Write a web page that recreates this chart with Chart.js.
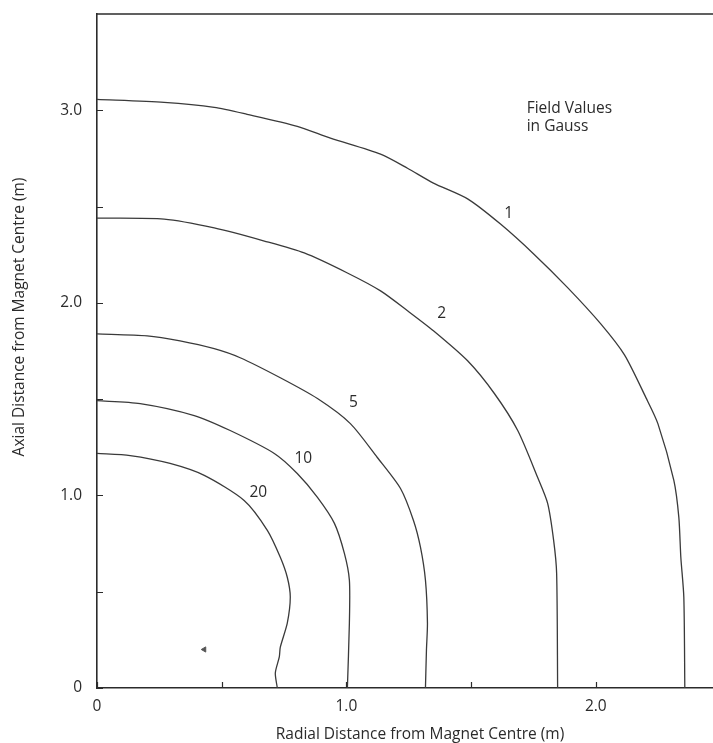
<!DOCTYPE html>
<html>
<head>
<meta charset="utf-8">
<script src="https://cdn.jsdelivr.net/npm/chart.js@4.4.1/dist/chart.umd.min.js"></script>
<style>
  html, body { margin: 0; padding: 0; background: #fff; }
  #wrap { width: 713px; height: 743px; }
</style>
</head>
<body>
<div id="wrap"><canvas id="c" width="713" height="743"></canvas></div>
<script>
// Iso-field contours around the magnet: [radial distance (m), axial distance (m)]
const contour1G = [[0,3.057],[0.269,3.041],[0.470,3.015],[0.602,2.979],[0.803,2.917],[0.936,2.855],[1.137,2.772],[1.245,2.699],[1.349,2.622],[1.486,2.540],[1.618,2.409],[1.751,2.254],[1.888,2.078],[2.020,1.891],[2.115,1.730],[2.201,1.508],[2.249,1.373],[2.313,1.078],[2.333,0.886],[2.341,0.679],[2.353,0.472],[2.357,0]];
const contour2G = [[0,2.440],[0.269,2.435],[0.470,2.389],[0.671,2.321],[0.831,2.259],[1.004,2.155],[1.137,2.062],[1.245,1.959],[1.349,1.855],[1.486,1.699],[1.594,1.528],[1.687,1.337],[1.767,1.093],[1.807,0.959],[1.831,0.767],[1.843,0.596],[1.847,0]];
const contour5G = [[0,1.839],[0.201,1.829],[0.333,1.803],[0.470,1.762],[0.574,1.715],[0.735,1.611],[0.884,1.503],[1.016,1.373],[1.124,1.197],[1.217,1.036],[1.269,0.870],[1.297,0.731],[1.317,0.560],[1.325,0.337],[1.321,0.197],[1.317,0]];
const contour10G = [[0,1.492],[0.173,1.477],[0.390,1.415],[0.534,1.337],[0.711,1.218],[0.803,1.114],[0.884,0.990],[0.952,0.855],[0.992,0.699],[1.012,0.560],[1.012,0.337],[1.004,0]];
const contour20G = [[0,1.218],[0.133,1.207],[0.293,1.166],[0.430,1.104],[0.590,0.974],[0.683,0.819],[0.735,0.679],[0.763,0.575],[0.775,0.472],[0.763,0.337],[0.735,0.212],[0.731,0.161],[0.715,0.078],[0.723,0]];

// Field value of each contour (Gauss) and where its label sits [r, z]
const fieldLevels = ['1', '2', '5', '10', '20'];
const levelLabelPos = [[1.651,2.466],[1.382,1.943],[1.028,1.482],[0.827,1.192],[0.647,1.016]];

// Small arrow marker near the base
const arrowMark = [[0.43,0.20]];

// Axis ticks
const xTickValues = [0, 0.5, 1, 1.5, 2];
const yTickValues = [0, 0.5, 1, 1.5, 2, 2.5, 3];
const xTickLabels = {0: '0', 1: '1.0', 2: '2.0'};
const yTickLabels = {0: '0', 1: '1.0', 2: '2.0', 3: '3.0'};

const xTitle = 'Radial Distance from Magnet Centre (m)';
const yTitle = 'Axial Distance from Magnet Centre (m)';
const noteLines = ['Field Values', 'in Gauss'];
const notePos = [1.723, 3.010];

const FONT = '"Open Sans", "DejaVu Sans", sans-serif';
const FS = 15.5;
const INK = '#2b2b2b';
const LINE = '#3a3a3a';

const toPts = arr => arr.map(p => ({x: p[0], y: p[1]}));
const contours = [contour1G, contour2G, contour5G, contour10G, contour20G];

const datasets = contours.map((c, i) => ({
  label: fieldLevels[i] + ' G',
  data: toPts(c),
  showLine: true,
  borderColor: LINE,
  borderWidth: 1.3,
  pointRadius: 0,
  tension: 0.25,
  fill: false
}));
datasets.push({
  label: 'marker',
  data: toPts(arrowMark),
  showLine: false,
  pointStyle: 'triangle',
  rotation: -90,
  pointRadius: 3,
  backgroundColor: '#555',
  borderColor: '#555',
  borderWidth: 1
});

const decor = {
  id: 'decor',
  afterDraw(chart) {
    const {ctx, chartArea: a, scales: {x, y}} = chart;
    ctx.save();
    // top frame line
    ctx.strokeStyle = INK;
    ctx.lineWidth = 1.6;
    ctx.beginPath();
    ctx.moveTo(a.left - 0.8, a.top);
    ctx.lineTo(a.right, a.top);
    ctx.stroke();
    // inward tick marks
    ctx.lineWidth = 1.2;
    ctx.beginPath();
    xTickValues.forEach(v => {
      const px = Math.round(x.getPixelForValue(v)) + 0.5;
      ctx.moveTo(px, a.bottom);
      ctx.lineTo(px, a.bottom - 6);
    });
    yTickValues.forEach(v => {
      const py = Math.round(y.getPixelForValue(v)) + 0.5;
      ctx.moveTo(a.left, py);
      ctx.lineTo(a.left + 6, py);
    });
    ctx.stroke();
    // contour value labels
    ctx.fillStyle = INK;
    ctx.font = FS + 'px ' + FONT;
    ctx.textAlign = 'center';
    ctx.textBaseline = 'middle';
    fieldLevels.forEach((t, i) => {
      const p = levelLabelPos[i];
      ctx.fillText(t, x.getPixelForValue(p[0]), y.getPixelForValue(p[1]));
    });
    // note
    ctx.textAlign = 'left';
    const nx = x.getPixelForValue(notePos[0]);
    const ny = y.getPixelForValue(notePos[1]);
    noteLines.forEach((t, i) => ctx.fillText(t, nx, ny + i * 18));
    // axis titles
    ctx.textAlign = 'center';
    ctx.fillText(xTitle, 420, 735);
    ctx.translate(20, 317);
    ctx.rotate(-Math.PI / 2);
    ctx.fillText(yTitle, 0, 0);
    ctx.restore();
  }
};

new Chart(document.getElementById('c'), {
  type: 'scatter',
  data: {datasets},
  options: {
    responsive: false,
    animation: false,
    events: [],
    layout: {autoPadding: false, padding: {top: 14, right: 0, left: 0, bottom: 0}},
    plugins: {legend: {display: false}, tooltip: {enabled: false}},
    scales: {
      x: {
        type: 'linear',
        min: 0,
        max: 2.47,
        afterFit(s) { s.height = 55; s.paddingLeft = 0; s.paddingRight = 0; },
        afterBuildTicks(s) { s.ticks = xTickValues.map(v => ({value: v})); },
        ticks: {
          autoSkip: false,
          maxRotation: 0,
          padding: 9,
          color: INK,
          font: {family: FONT, size: FS},
          callback: v => xTickLabels[v] ?? ''
        },
        grid: {display: false, drawTicks: false},
        border: {display: true, color: INK, width: 1.6}
      },
      y: {
        type: 'linear',
        min: 0,
        max: 3.5,
        afterFit(s) { s.width = 97; s.paddingTop = 0; s.paddingBottom = 0; },
        afterBuildTicks(s) { s.ticks = yTickValues.map(v => ({value: v})); },
        ticks: {
          autoSkip: false,
          padding: 15,
          color: INK,
          font: {family: FONT, size: FS},
          callback: v => yTickLabels[v] ?? ''
        },
        grid: {display: false, drawTicks: false},
        border: {display: true, color: INK, width: 1.6}
      }
    }
  },
  plugins: [decor]
});
</script>
</body>
</html>
